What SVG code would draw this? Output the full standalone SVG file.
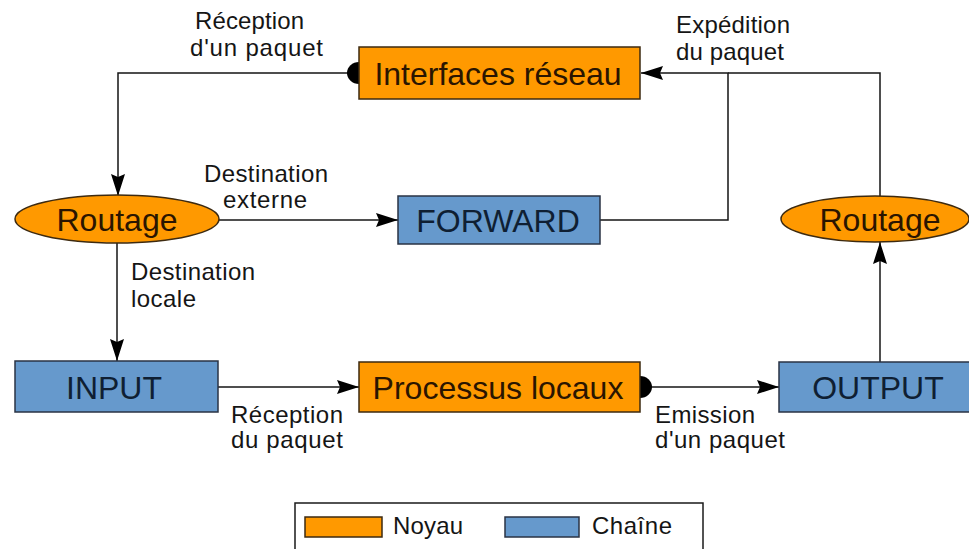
<svg xmlns="http://www.w3.org/2000/svg" width="969" height="549" viewBox="0 0 969 549">
<style>
.bg{fill:#ffffff}
.k{fill:#ff9900;stroke:#3d2a10;stroke-width:1.5}
.c{fill:#6699cc;stroke:#2a3344;stroke-width:1.5}
.kt{font-family:"Liberation Sans",Arial,sans-serif;font-size:32px;fill:#2a1500;text-anchor:middle}
.ct{font-family:"Liberation Sans",Arial,sans-serif;font-size:32px;fill:#0f1f33;text-anchor:middle}
.lb{font-family:"Liberation Sans",Arial,sans-serif;font-size:24px;fill:#151515}
.ln{fill:none;stroke:#151515;stroke-width:1.5}
.dot{fill:#000}
</style>
<defs>
<marker id="arr" viewBox="0 0 22 14" markerWidth="22" markerHeight="14" refX="22" refY="7" orient="auto" markerUnits="userSpaceOnUse">
<path d="M0,0 L22,7 L0,14 L3,7 Z" fill="#000"/>
</marker>
</defs>
<rect class="bg" x="0" y="0" width="969" height="549"/>

<g id="connectors">
<path class="ln" d="M359,73 L118,73 L118,196" marker-end="url(#arr)"/>
<ellipse class="dot" cx="359" cy="73" rx="12" ry="11"/>
<path class="ln" d="M219,220 L398,220" marker-end="url(#arr)"/>
<path class="ln" d="M600,220 L728,220 L728,73 L641,73" marker-end="url(#arr)"/>
<path class="ln" d="M880,196 L880,73 L728,73"/>
<path class="ln" d="M880,362 L880,242" marker-end="url(#arr)"/>
<path class="ln" d="M117,243 L117,361" marker-end="url(#arr)"/>
<path class="ln" d="M218,387 L359,387" marker-end="url(#arr)"/>
<path class="ln" d="M640,387 L779,387" marker-end="url(#arr)"/>
<ellipse class="dot" cx="640" cy="387" rx="12" ry="11"/>
</g>

<g id="interfaces">
<rect class="k" x="359" y="47" width="281" height="52"/>
<text class="kt" x="498" y="85">Interfaces réseau</text>
</g>
<g id="routage-left">
<ellipse class="k" cx="117" cy="219" rx="102" ry="24"/>
<text class="kt" x="117" y="231">Routage</text>
</g>
<g id="forward">
<rect class="c" x="398" y="196" width="202" height="48"/>
<text class="ct" x="498" y="232">FORWARD</text>
</g>
<g id="routage-right">
<ellipse class="k" cx="875" cy="219" rx="94" ry="23"/>
<text class="kt" x="880" y="231">Routage</text>
</g>
<g id="input">
<rect class="c" x="15" y="361" width="203" height="51"/>
<text class="ct" x="114" y="399">INPUT</text>
</g>
<g id="processus">
<rect class="k" x="359" y="362" width="281" height="50"/>
<text class="kt" x="498" y="399">Processus locaux</text>
</g>
<g id="output">
<rect class="c" x="779" y="362" width="192" height="50"/>
<text class="ct" x="878" y="399">OUTPUT</text>
</g>

<g id="labels">
<text class="lb" x="195" y="29" textLength="109" lengthAdjust="spacing">Réception</text>
<text class="lb" x="190" y="56" textLength="133" lengthAdjust="spacing">d'un paquet</text>
<text class="lb" x="676" y="33" textLength="114" lengthAdjust="spacing">Expédition</text>
<text class="lb" x="676" y="60" textLength="108" lengthAdjust="spacing">du paquet</text>
<text class="lb" x="204" y="182" textLength="124" lengthAdjust="spacing">Destination</text>
<text class="lb" x="223" y="208" textLength="84" lengthAdjust="spacing">externe</text>
<text class="lb" x="131" y="280" textLength="124" lengthAdjust="spacing">Destination</text>
<text class="lb" x="131" y="307" textLength="65" lengthAdjust="spacing">locale</text>
<text class="lb" x="231" y="423" textLength="112" lengthAdjust="spacing">Réception</text>
<text class="lb" x="231" y="448" textLength="112" lengthAdjust="spacing">du paquet</text>
<text class="lb" x="655" y="423" textLength="100" lengthAdjust="spacing">Emission</text>
<text class="lb" x="655" y="448" textLength="130" lengthAdjust="spacing">d'un paquet</text>
</g>

<g id="legend">
<rect x="295" y="503" width="408" height="60" fill="#fff" stroke="#1a1a1a" stroke-width="1.5"/>
<rect class="k" x="305" y="517" width="77" height="20"/>
<text class="lb" x="393" y="534" textLength="70" lengthAdjust="spacing">Noyau</text>
<rect class="c" x="505" y="517" width="74" height="20"/>
<text class="lb" x="592" y="534" textLength="80" lengthAdjust="spacing">Chaîne</text>
</g>
</svg>
